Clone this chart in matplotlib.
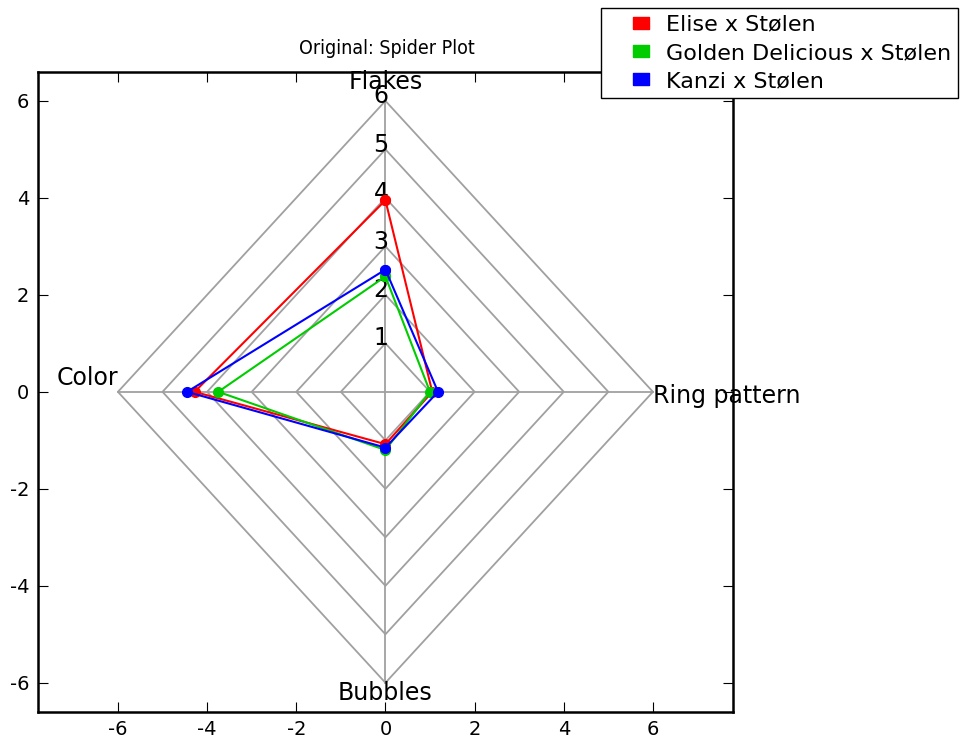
import matplotlib
matplotlib.use('Agg')
import matplotlib.pyplot as plt
from matplotlib.lines import Line2D
import numpy as np

plt.rcParams['axes.unicode_minus'] = False

# categories (clockwise from top)
categories = ['Flakes', 'Ring pattern', 'Bubbles', 'Color']
angles = [90, 0, 270, 180]  # degrees

# scores per cross
series_names = ['Elise x Stølen', 'Golden Delicious x Stølen', 'Kanzi x Stølen']
elise = [3.95, 1.05, 1.08, 4.28]
golden = [2.38, 1.0, 1.2, 3.75]
kanzi = [2.52, 1.18, 1.15, 4.45]
colors = ['#ff0000', '#00cc00', '#0000ff']

levels = [1, 2, 3, 4, 5, 6]

fig = plt.figure(figsize=(9.66, 7.4), dpi=100)
ax = fig.add_axes([0.039, 0.038, 0.72, 0.865])

rad = np.deg2rad(angles)
ca, sa = np.round(np.cos(rad), 12), np.round(np.sin(rad), 12)

# grid diamonds
for r in levels:
    gx = np.append(r * ca, r * ca[0])
    gy = np.append(r * sa, r * sa[0])
    ax.plot(gx, gy, color='#a0a0a0', lw=1.3, zorder=1)
for c, s in zip(ca, sa):
    ax.plot([0, 6 * c], [0, 6 * s], color='#a0a0a0', lw=1.3, zorder=1)

# radial labels
for r in levels:
    ax.text(-0.1, r + 0.1, str(r), ha='center', va='center', fontsize=17)

# category labels
ax.text(0, 6.38, 'Flakes', ha='center', va='center', fontsize=17)
ax.text(6.0, -0.08, 'Ring pattern', ha='left', va='center', fontsize=17)
ax.text(0, -6.22, 'Bubbles', ha='center', va='center', fontsize=17)
ax.text(-6.0, 0.29, 'Color', ha='right', va='center', fontsize=17)

for vals, col in zip([elise, golden, kanzi], colors):
    v = np.array(vals)
    px = np.append(v * ca, v[0] * ca[0])
    py = np.append(v * sa, v[0] * sa[0])
    ax.plot(px, py, color=col, lw=1.5, marker='o', ms=7, mec=col, zorder=3)

ax.set_xlim(-7.8, 7.8)
ax.set_ylim(-6.6, 6.6)
ax.set_xticks([-6, -4, -2, 0, 2, 4, 6])
ax.set_yticks([-6, -4, -2, 0, 2, 4, 6])
ax.tick_params(direction='in', top=True, right=True, labelsize=14, length=7, pad=6)
for sp in ax.spines.values():
    sp.set_linewidth(1.8)

fig.text(0.40, 0.935, 'Original: Spider Plot', ha='center', va='center',
         fontsize=14, family='DejaVu Sans', stretch='condensed')

rect = [(-1.35, -1), (1.35, -1), (1.35, 1), (-1.35, 1), (-1.35, -1)]
handles = [Line2D([], [], ls='none', marker=rect, ms=11, color=c, mec=c, label=n)
           for c, n in zip(colors, series_names)]
leg = fig.legend(handles=handles, loc='upper left', bbox_to_anchor=(0.622, 0.989),
                 fontsize=16, fancybox=False, edgecolor='black', framealpha=1,
                 handlelength=3.0, borderpad=0.3, labelspacing=0.37,
                 handletextpad=-0.36, borderaxespad=0)
leg.get_frame().set_linewidth(1.0)

fig.savefig('out.png', dpi=100)
